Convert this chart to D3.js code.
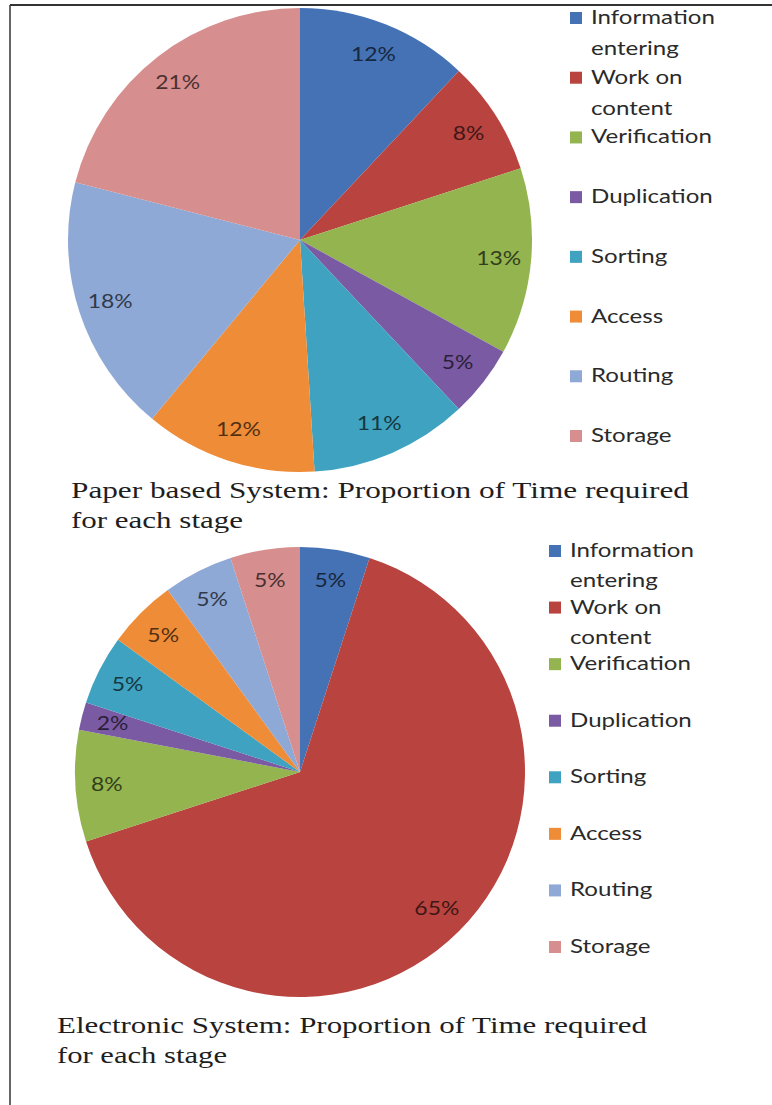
<!DOCTYPE html>
<html>
<head>
<meta charset="utf-8">
<script src="https://cdn.jsdelivr.net/npm/d3@7"></script>
<style>
  html, body { margin: 0; padding: 0; background: #ffffff; }
  svg { display: block; }
</style>
</head>
<body>
<svg id="chart" width="772" height="1105"></svg>
<script>
// Stages of the document workflow, in slice order (clockwise from 12 o'clock)
const categories = ["Information entering", "Work on content", "Verification", "Duplication",
                    "Sorting", "Access", "Routing", "Storage"];
// Legend text, broken onto lines as printed
const legendLabels = [["Information", "entering"], ["Work on", "content"], ["Verification"],
                      ["Duplication"], ["Sorting"], ["Access"], ["Routing"], ["Storage"]];
// Share of total time per stage (%)
const paperValues = [12, 8, 13, 5, 11, 12, 18, 21];
const electronicValues = [5, 65, 8, 2, 5, 5, 5, 5];
const sliceColors = ["#4472b4", "#b8433f", "#93b44e", "#7a5aa3",
                     "#3ea2c0", "#ef8c38", "#8fa9d6", "#d68e8e"];
const paperTitle = ["Paper based System: Proportion of Time required", "for each stage"];
const electronicTitle = ["Electronic System: Proportion of Time required", "for each stage"];

const svg = d3.select("#chart");
const sansFont = "Lato, 'Open Sans', sans-serif";
const serifFont = "'Liberation Serif', 'DejaVu Serif', serif";

// frame lines along the top and left edge
svg.append("line").attr("x1", 10).attr("x2", 772).attr("y1", 5).attr("y2", 5)
  .attr("stroke", "#333").attr("stroke-width", 2);
svg.append("line").attr("x1", 10).attr("x2", 10).attr("y1", 5).attr("y2", 1105)
  .attr("stroke", "#333").attr("stroke-width", 1.5);

// horizontal stretch so the sans text keeps the wide proportions of the printed figure
const probe = svg.append("text").attr("font-family", sansFont).attr("font-size", 19).text("Information");
const sx = 124 / probe.node().getComputedTextLength();
probe.remove();

const colour = d3.scaleOrdinal().domain(categories).range(sliceColors);

function drawPanel(cfg) {
  const g = svg.append("g");
  const pie = d3.pie().sort(null).value(d => d.value);
  const arcs = pie(categories.map((c, i) => ({ cat: c, value: cfg.values[i] })));
  const arc = d3.arc().innerRadius(0).outerRadius(cfg.r);
  const labelArc = d3.arc().innerRadius(cfg.r * 0.86).outerRadius(cfg.r * 0.86);

  const pieG = g.append("g").attr("transform", `translate(${cfg.cx},${cfg.cy})`);
  pieG.selectAll("path").data(arcs).join("path")
    .attr("d", arc)
    .attr("fill", d => colour(d.data.cat));

  pieG.selectAll("text").data(arcs).join("text")
    .attr("transform", d => {
      const [x, y] = labelArc.centroid(d);
      return `translate(${x},${y + 6.5}) scale(${sx * 0.95},1)`;
    })
    .attr("text-anchor", "middle")
    .attr("font-family", sansFont)
    .attr("font-size", 19)
    .attr("fill", d => d3.color(colour(d.data.cat)).darker(3))
    .text(d => d.data.value + "%");

  // legend
  const ly = d3.scalePoint().domain(categories).range(cfg.legendRange);
  const leg = g.append("g");
  categories.forEach((c, i) => {
    const y = ly(c);
    leg.append("rect")
      .attr("x", cfg.legendX).attr("y", y - 6)
      .attr("width", 12).attr("height", 12)
      .attr("fill", colour(c));
    legendLabels[i].forEach((line, k) => {
      leg.append("text")
        .attr("transform", `translate(${cfg.legendX + 21},${y + 6 + k * cfg.lineGap}) scale(${sx},1)`)
        .attr("font-family", sansFont)
        .attr("font-size", 19)
        .attr("fill", "#2a2a2a")
        .text(line);
    });
  });

  // caption under the pie
  cfg.title.forEach((line, k) => {
    g.append("text")
      .attr("x", cfg.titleX)
      .attr("y", cfg.titleY + k * 30)
      .attr("font-family", serifFont)
      .attr("font-size", 24)
      .attr("fill", "#1e1e1e")
      .attr("textLength", cfg.titleWidths[k])
      .attr("lengthAdjust", "spacingAndGlyphs")
      .text(line);
  });
}

drawPanel({
  values: paperValues, cx: 300, cy: 240, r: 232,
  legendX: 570, legendRange: [18, 436], lineGap: 31,
  title: paperTitle, titleX: 71, titleY: 498, titleWidths: [618, 172]
});

drawPanel({
  values: electronicValues, cx: 300, cy: 772, r: 225,
  legendX: 549, legendRange: [551, 947], lineGap: 30,
  title: electronicTitle, titleX: 57, titleY: 1033, titleWidths: [590, 170]
});
</script>
</body>
</html>
